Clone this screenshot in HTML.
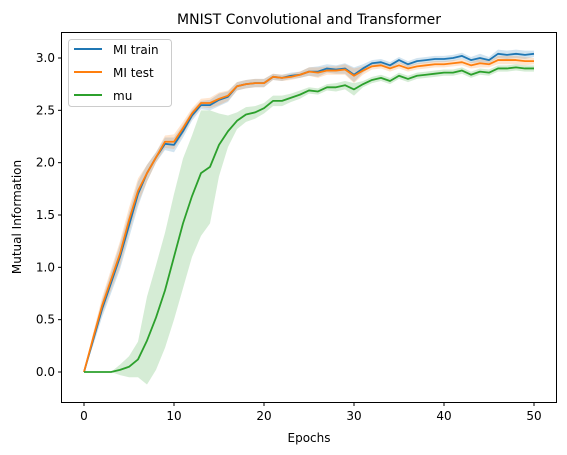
<!DOCTYPE html>
<html><head><meta charset="utf-8"><style>
body{margin:0;background:#fff;}
svg{display:block;font-family:"DejaVu Sans","Liberation Sans",sans-serif;}
</style></head><body>
<svg id="chart" width="567" height="455" viewBox="0 0 567 455" xmlns="http://www.w3.org/2000/svg">
<rect x="0" y="0" width="567" height="455" fill="#fff"/>
<text x="309" y="24" text-anchor="middle" font-size="14" fill="#000">MNIST Convolutional and Transformer</text>
<g id="bands"></g><g id="lines"></g>
<rect x="61.5" y="32.5" width="495" height="370" fill="none" stroke="#000" stroke-width="1"/>
<g id="xticks"></g><g id="yticks"></g>
<text x="309" y="442" text-anchor="middle" font-size="12">Epochs</text>
<text x="0" y="0" transform="translate(21,217) rotate(-90)" text-anchor="middle" font-size="12">Mutual Information</text>
<g>
<rect x="68.5" y="39.5" width="103" height="67" rx="3" fill="#fff" fill-opacity="0.8" stroke="#ccc"/>
<line x1="74" y1="49" x2="102" y2="49" stroke="#1f77b4" stroke-width="2"/>
<text x="113" y="54" font-size="12">MI train</text>
<line x1="74" y1="72" x2="102" y2="72" stroke="#ff7f0e" stroke-width="2"/>
<text x="113" y="77" font-size="12">MI test</text>
<line x1="74" y1="95" x2="102" y2="95" stroke="#2ca02c" stroke-width="2"/>
<text x="113" y="100" font-size="12">mu</text>
</g>
</svg>
<script>
const epochs = Array.from({length:51},(_, i)=>i);
const miTrain = [0,0.3,0.6,0.85,1.1,1.4,1.7,1.9,2.05,2.18,2.17,2.3,2.45,2.55,2.55,2.6,2.63,2.73,2.75,2.76,2.76,2.82,2.81,2.83,2.84,2.87,2.87,2.9,2.89,2.9,2.84,2.9,2.95,2.96,2.93,2.98,2.94,2.97,2.98,2.99,2.99,3.0,3.02,2.98,3.0,2.98,3.04,3.03,3.04,3.03,3.04];
const miTest = [0,0.32,0.63,0.88,1.13,1.45,1.73,1.9,2.05,2.2,2.2,2.33,2.47,2.57,2.57,2.61,2.64,2.73,2.75,2.76,2.76,2.82,2.81,2.82,2.84,2.87,2.86,2.88,2.88,2.89,2.83,2.88,2.92,2.93,2.9,2.93,2.9,2.92,2.93,2.94,2.94,2.95,2.96,2.93,2.95,2.94,2.98,2.98,2.98,2.97,2.97];
const miStd = [0,0.05,0.08,0.1,0.12,0.12,0.12,0.08,0.05,0.06,0.07,0.06,0.05,0.04,0.05,0.06,0.05,0.04,0.04,0.04,0.04,0.03,0.03,0.03,0.03,0.04,0.05,0.04,0.04,0.05,0.07,0.04,0.03,0.03,0.03,0.03,0.03,0.03,0.03,0.03,0.03,0.03,0.03,0.03,0.04,0.03,0.04,0.04,0.04,0.04,0.03];
const mu = [0,0,0,0,0.02,0.05,0.12,0.3,0.52,0.78,1.1,1.42,1.68,1.9,1.96,2.17,2.3,2.4,2.46,2.48,2.52,2.59,2.59,2.62,2.65,2.69,2.68,2.72,2.72,2.74,2.7,2.75,2.79,2.81,2.78,2.83,2.8,2.83,2.84,2.85,2.86,2.86,2.88,2.84,2.87,2.86,2.9,2.9,2.91,2.9,2.9];
const muStd = [0,0,0,0,0.05,0.1,0.17,0.42,0.5,0.55,0.6,0.62,0.58,0.6,0.54,0.3,0.15,0.08,0.07,0.06,0.05,0.05,0.05,0.04,0.04,0.03,0.03,0.03,0.04,0.04,0.06,0.03,0.03,0.03,0.03,0.03,0.03,0.03,0.03,0.03,0.03,0.03,0.03,0.03,0.03,0.03,0.03,0.03,0.03,0.03,0.03];
const xTicks = [0,10,20,30,40,50];
const yTicks = [0,0.5,1.0,1.5,2.0,2.5,3.0];

const NS='http://www.w3.org/2000/svg';
const xs = v => 84 + v*9.0;
const ys = v => 372 - v*104.67;
function mk(tag, attrs, parent){const e=document.createElementNS(NS,tag);for(const k in attrs)e.setAttribute(k,attrs[k]);parent.appendChild(e);return e;}
const bands=document.getElementById('bands'), lines=document.getElementById('lines');
function band(mean,std,color,name){
  let d='M'+epochs.map((x,i)=>xs(x)+','+ys(mean[i]+std[i])).join('L');
  d+='L'+epochs.slice().reverse().map(x=>xs(x)+','+ys(mean[x]-std[x])).join('L')+'Z';
  const p=mk('path',{d:d,fill:color,'fill-opacity':0.2,stroke:'none'},bands);
  
  
}
function line(vals,color,name){
  const p=mk('polyline',{points:epochs.map((x,i)=>xs(x)+','+ys(vals[i])).join(' '),fill:'none',stroke:color,'stroke-width':1.8,'stroke-linejoin':'round'},lines);
  
  
}
band(miTrain,miStd,'#1f77b4','mi-train-band');
band(miTest,miStd,'#ff7f0e','mi-test-band');
band(mu,muStd,'#2ca02c','mu-band');
line(miTrain,'#1f77b4','mi-train-line');
line(miTest,'#ff7f0e','mi-test-line');
line(mu,'#2ca02c','mu-line');
const gx=document.getElementById('xticks'), gy=document.getElementById('yticks');
xTicks.forEach(t=>{
  const g=mk('g',{},gx);
  
  
  mk('line',{x1:xs(t),x2:xs(t),y1:402.5,y2:406,stroke:'#000'},g);
  const tx=mk('text',{x:xs(t),y:420,'text-anchor':'middle','font-size':12},g);tx.textContent=t;
});
yTicks.forEach(t=>{
  const g=mk('g',{},gy);
  
  
  mk('line',{x1:58,x2:61.5,y1:ys(t),y2:ys(t),stroke:'#000'},g);
  const tx=mk('text',{x:55,y:ys(t)+4,'text-anchor':'end','font-size':12},g);tx.textContent=t.toFixed(1);
});
</script>
</body></html>
